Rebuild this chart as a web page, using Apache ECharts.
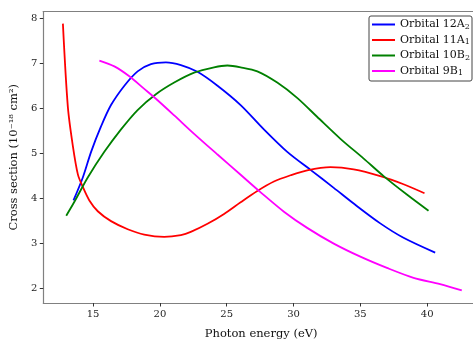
<!DOCTYPE html>
<html>
<head>
<meta charset="utf-8">
<script src="https://cdn.jsdelivr.net/npm/echarts@6/dist/echarts.min.js"></script>
<style>
  html, body { margin: 0; padding: 0; background: #fff; }
  #chart { width: 473px; height: 345px; }
</style>
</head>
<body>
<div id="chart"></div>
<script>
// values
const names = ['Orbital 12A2', 'Orbital 11A1', 'Orbital 10B2', 'Orbital 9B1']
const colors = ['#0000ff', '#ff0000', '#008000', '#ff00ff']
const xTicks = [15, 20, 25, 30, 35, 40]
const yTicks = [2, 3, 4, 5, 6, 7, 8]

const x12A2 = [13.53, 14.23, 14.85, 15.6, 16.34, 17.34, 18.33, 19.33, 20.45, 21.57, 22.81, 24.31, 26.04, 27.78, 29.53, 31.27, 33.01, 34.5, 36.49, 38.23, 40.6]
const y12A2 = [3.96, 4.47, 5.04, 5.61, 6.08, 6.51, 6.83, 6.99, 7.03, 6.97, 6.82, 6.51, 6.08, 5.54, 5.04, 4.64, 4.24, 3.89, 3.45, 3.13, 2.8]

const x11A1 = [12.74, 13.11, 13.48, 13.86, 14.23, 14.72, 15.35, 16.34, 17.59, 18.83, 20.32, 21.57, 22.31, 23.56, 24.8, 26.04, 27.29, 28.53, 29.78, 31.02, 32.76, 34.5, 36.49, 38.23, 39.8]
const y11A1 = [7.89, 6.04, 5.18, 4.54, 4.26, 3.96, 3.72, 3.5, 3.32, 3.2, 3.15, 3.19, 3.26, 3.44, 3.66, 3.92, 4.17, 4.38, 4.52, 4.63, 4.7, 4.65, 4.5, 4.32, 4.12]

const x10B2 = [12.99, 13.6, 14.6, 15.84, 17.09, 18.33, 19.7, 21.07, 22.56, 24.05, 25.05, 26.04, 27.29, 28.78, 30.27, 31.76, 33.51, 35.25, 36.74, 38.48, 40.1]
const y10B2 = [3.62, 3.93, 4.47, 5.04, 5.54, 5.97, 6.32, 6.58, 6.8, 6.92, 6.96, 6.92, 6.83, 6.58, 6.24, 5.82, 5.33, 4.89, 4.5, 4.09, 3.73]

const x9B1 = [15.47, 16.59, 17.71, 18.83, 19.7, 21.07, 22.56, 24.31, 26.04, 27.54, 29.28, 31.02, 33.01, 35.0, 36.99, 38.98, 40.97, 42.59]
const y9B1 = [7.07, 6.94, 6.72, 6.44, 6.22, 5.85, 5.44, 4.98, 4.53, 4.14, 3.71, 3.35, 3.0, 2.71, 2.46, 2.24, 2.1, 1.96]

const xs = [x12A2, x11A1, x10B2, x9B1]
const ys = [y12A2, y11A1, y10B2, y9B1]

const font = 'DejaVu Serif'
const axisGrey = '#808080'

const series = names.map((name, i) => ({
    name: name,
    type: 'line',
    smooth: 0.3,
    symbol: 'none',
    lineStyle: { color: colors[i], width: 1.8 },
    itemStyle: { color: colors[i] },
    data: xs[i].map((x, k) => [x, ys[i][k]])
}))

const option = {
    animation: false,
    grid: {
        left: 42,
        right: 0,
        top: 11.5,
        bottom: 32
    },
    legend: {
        data: names,
        orient: 'vertical',
        right: 1,
        top: 16,
        icon: 'rect',
        itemWidth: 23,
        itemHeight: 2,
        itemGap: 4,
        padding: [3, 2, 4, 3],
        borderColor: '#444',
        borderWidth: 1,
        borderRadius: 2,
        backgroundColor: '#fff',
        formatter: (n) => {
            const sub = n.slice(-1)
            return '{a|' + n.slice(0, -1) + '}{s|' + sub + '}'
        },
        textStyle: {
            rich: {
                a: { fontFamily: font, fontSize: 11, color: '#111', lineHeight: 12 },
                s: { fontFamily: font, fontSize: 8, color: '#111', lineHeight: 4, verticalAlign: 'bottom' }
            }
        }
    },
    xAxis: [{
        type: 'value',
        min: 11.27,
        max: 43.43,
        name: 'Photon energy (eV)',
        nameLocation: 'middle',
        nameGap: 25,
        nameTextStyle: { fontFamily: font, fontSize: 11.5, color: '#111', padding: [0, 0, 0, 6] },
        axisLine: { lineStyle: { color: axisGrey, width: 1.2 } },
        axisTick: { show: true, length: 3.5, customValues: xTicks, lineStyle: { color: '#333' } },
        axisLabel: { fontFamily: font, fontSize: 10, color: '#222', margin: 6, customValues: xTicks },
        splitLine: { show: false }
    }, {
        // top frame line only
        type: 'value',
        position: 'top',
        min: 11.27,
        max: 43.43,
        axisLine: { show: true, lineStyle: { color: axisGrey, width: 1.2 } },
        axisTick: { show: false },
        axisLabel: { show: false },
        splitLine: { show: false }
    }],
    yAxis: {
        type: 'value',
        min: 1.68,
        max: 8.16,
        name: 'Cross section (10\u207B\u00B9\u2078 cm\u00B2)',
        nameLocation: 'middle',
        nameRotate: 90,
        nameGap: 22,
        nameTextStyle: { fontFamily: font, fontSize: 11.5, color: '#111' },
        axisLine: { show: true, lineStyle: { color: axisGrey, width: 1.2 } },
        axisTick: { show: true, length: 3.5, customValues: yTicks, lineStyle: { color: '#333' } },
        axisLabel: { fontFamily: font, fontSize: 10, color: '#222', margin: 6, customValues: yTicks },
        splitLine: { show: false }
    },
    series: series
}

const chart = echarts.init(document.getElementById('chart'), null, { renderer: 'canvas' })
chart.setOption(option)
</script>
</body>
</html>
